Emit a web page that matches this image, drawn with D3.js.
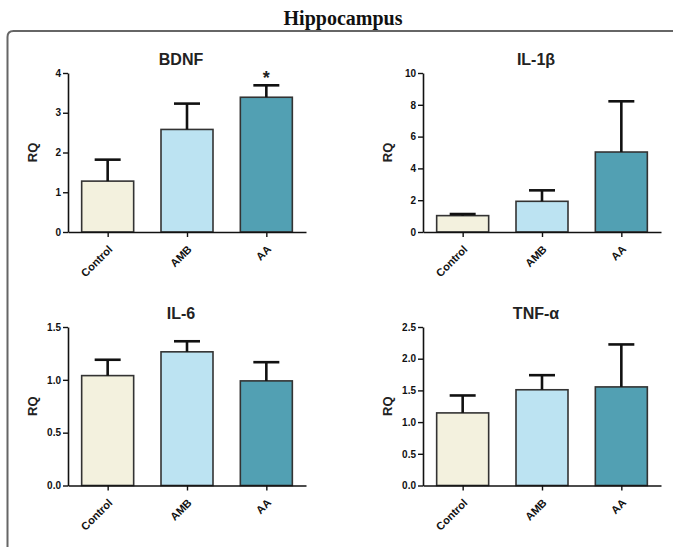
<!DOCTYPE html>
<html><head><meta charset="utf-8">
<script src="https://cdn.jsdelivr.net/npm/d3@7"></script>
<style>body{margin:0;background:#fff}svg{display:block}</style>
</head><body>
<script>
const categories = ["Control", "AMB", "AA"];
const colors = ["#f3f1de", "#bce3f2", "#52a0b3"];
const panelTitles = ["BDNF", "IL-1β", "IL-6", "TNF-α"];
const bdnfMean = [1.28, 2.58, 3.39];
const bdnfErr  = [1.82, 3.23, 3.69];
const il1bMean = [1.03, 1.93, 5.03];
const il1bErr  = [1.13, 2.62, 8.22];
const il6Mean  = [1.04, 1.265, 0.99];
const il6Err   = [1.19, 1.365, 1.167];
const tnfMean  = [1.145, 1.51, 1.555];
const tnfErr   = [1.42, 1.74, 2.225];
const bdnfTicks = [0, 1, 2, 3, 4];
const il1bTicks = [0, 2, 4, 6, 8, 10];
const il6Ticks  = [0, 0.5, 1.0, 1.5];
const tnfTicks  = [0, 0.5, 1.0, 1.5, 2.0, 2.5];
const significance = ["", "", "*"];

const W = 673, H = 547;
const svg = d3.select("body").append("svg").attr("width", W).attr("height", H);

// main title
svg.append("text").attr("x", 343).attr("y", 25).attr("text-anchor", "middle")
  .attr("font-family", "Liberation Serif, Times New Roman, serif").attr("font-weight", "bold")
  .attr("font-size", 20).attr("fill", "#111").text("Hippocampus");

// frame
svg.append("path").attr("d", "M7.5,560 L7.5,37 Q7.5,31 13.5,31 L680,31")
  .attr("fill", "none").attr("stroke", "#666").attr("stroke-width", 2);

const panels = [
  {title: panelTitles[0], mean: bdnfMean, err: bdnfErr, ticks: bdnfTicks, fmt: d3.format("d"), x0: 68, y0: 232, y1: 73, star: significance},
  {title: panelTitles[1], mean: il1bMean, err: il1bErr, ticks: il1bTicks, fmt: d3.format("d"), x0: 423, y0: 232, y1: 73},
  {title: panelTitles[2], mean: il6Mean, err: il6Err, ticks: il6Ticks, fmt: d3.format(".1f"), x0: 68, y0: 485.5, y1: 327},
  {title: panelTitles[3], mean: tnfMean, err: tnfErr, ticks: tnfTicks, fmt: d3.format(".1f"), x0: 423, y0: 485.5, y1: 327}
];

const font = "Liberation Sans, Arial, sans-serif";
panels.forEach(p => {
  const g = svg.append("g");
  const x = d3.scalePoint().domain(categories).range([p.x0, p.x0 + 238]).padding(0.5);
  const y = d3.scaleLinear().domain([0, d3.max(p.ticks)]).range([p.y0, p.y1]);
  const bw = 52;

  // bars
  g.selectAll("rect.bar").data(categories).join("rect")
    .attr("x", d => x(d) - bw / 2).attr("width", bw)
    .attr("y", (d, i) => y(p.mean[i])).attr("height", (d, i) => y(0) - y(p.mean[i]))
    .attr("fill", (d, i) => colors[i]).attr("stroke", "#333").attr("stroke-width", 1.6);

  // error bars
  g.selectAll("line.err").data(categories).join("line")
    .attr("x1", d => x(d)).attr("x2", d => x(d))
    .attr("y1", (d, i) => y(p.mean[i])).attr("y2", (d, i) => y(p.err[i]))
    .attr("stroke", "#111").attr("stroke-width", 2.6);
  g.selectAll("line.cap").data(categories).join("line")
    .attr("x1", d => x(d) - 13).attr("x2", d => x(d) + 13)
    .attr("y1", (d, i) => y(p.err[i])).attr("y2", (d, i) => y(p.err[i]))
    .attr("stroke", "#111").attr("stroke-width", 2.6);

  if (p.star) {
    g.selectAll("text.star").data(categories).join("text")
      .attr("x", d => x(d)).attr("y", (d, i) => y(p.err[i]) - 1)
      .attr("text-anchor", "middle").attr("font-family", font).attr("font-weight", "bold")
      .attr("font-size", 18).attr("fill", "#222").text((d, i) => p.star[i]);
  }

  // y axis
  const ya = g.append("g").attr("transform", `translate(${p.x0},0)`)
    .call(d3.axisLeft(y).tickValues(p.ticks).tickFormat(p.fmt).tickSize(5).tickSizeOuter(0).tickPadding(2));
  ya.select(".domain").attr("stroke", "#111").attr("stroke-width", 1.6);
  ya.selectAll(".tick line").attr("stroke", "#111").attr("stroke-width", 1.4);
  ya.selectAll(".tick text").attr("font-family", font).attr("font-weight", "bold").attr("font-size", 10).attr("fill", "#111");

  // x axis
  const xa = g.append("g").attr("transform", `translate(0,${p.y0})`)
    .call(d3.axisBottom(x).tickSize(5).tickSizeOuter(0));
  xa.select(".domain").attr("stroke", "#111").attr("stroke-width", 1.6);
  xa.selectAll(".tick line").attr("stroke", "#111").attr("stroke-width", 1.4);
  xa.selectAll(".tick text").attr("font-family", font).attr("font-weight", "bold").attr("font-size", 11)
    .attr("fill", "#111").attr("text-anchor", "end").attr("dy", 0).attr("y", 0)
    .attr("transform", "translate(5,18) rotate(-45)");

  // title
  g.append("text").attr("x", p.x0 + 113).attr("y", p.y1 - 8).attr("text-anchor", "middle")
    .attr("font-family", font).attr("font-weight", "bold").attr("font-size", 16).attr("fill", "#222").text(p.title);

  // y label
  g.append("text").attr("transform", `translate(${p.x0 - 31},${(p.y0 + p.y1) / 2}) rotate(-90)`)
    .attr("text-anchor", "middle").attr("font-family", font).attr("font-weight", "bold")
    .attr("font-size", 13).attr("fill", "#222").text("RQ");
});
</script>
</body></html>
